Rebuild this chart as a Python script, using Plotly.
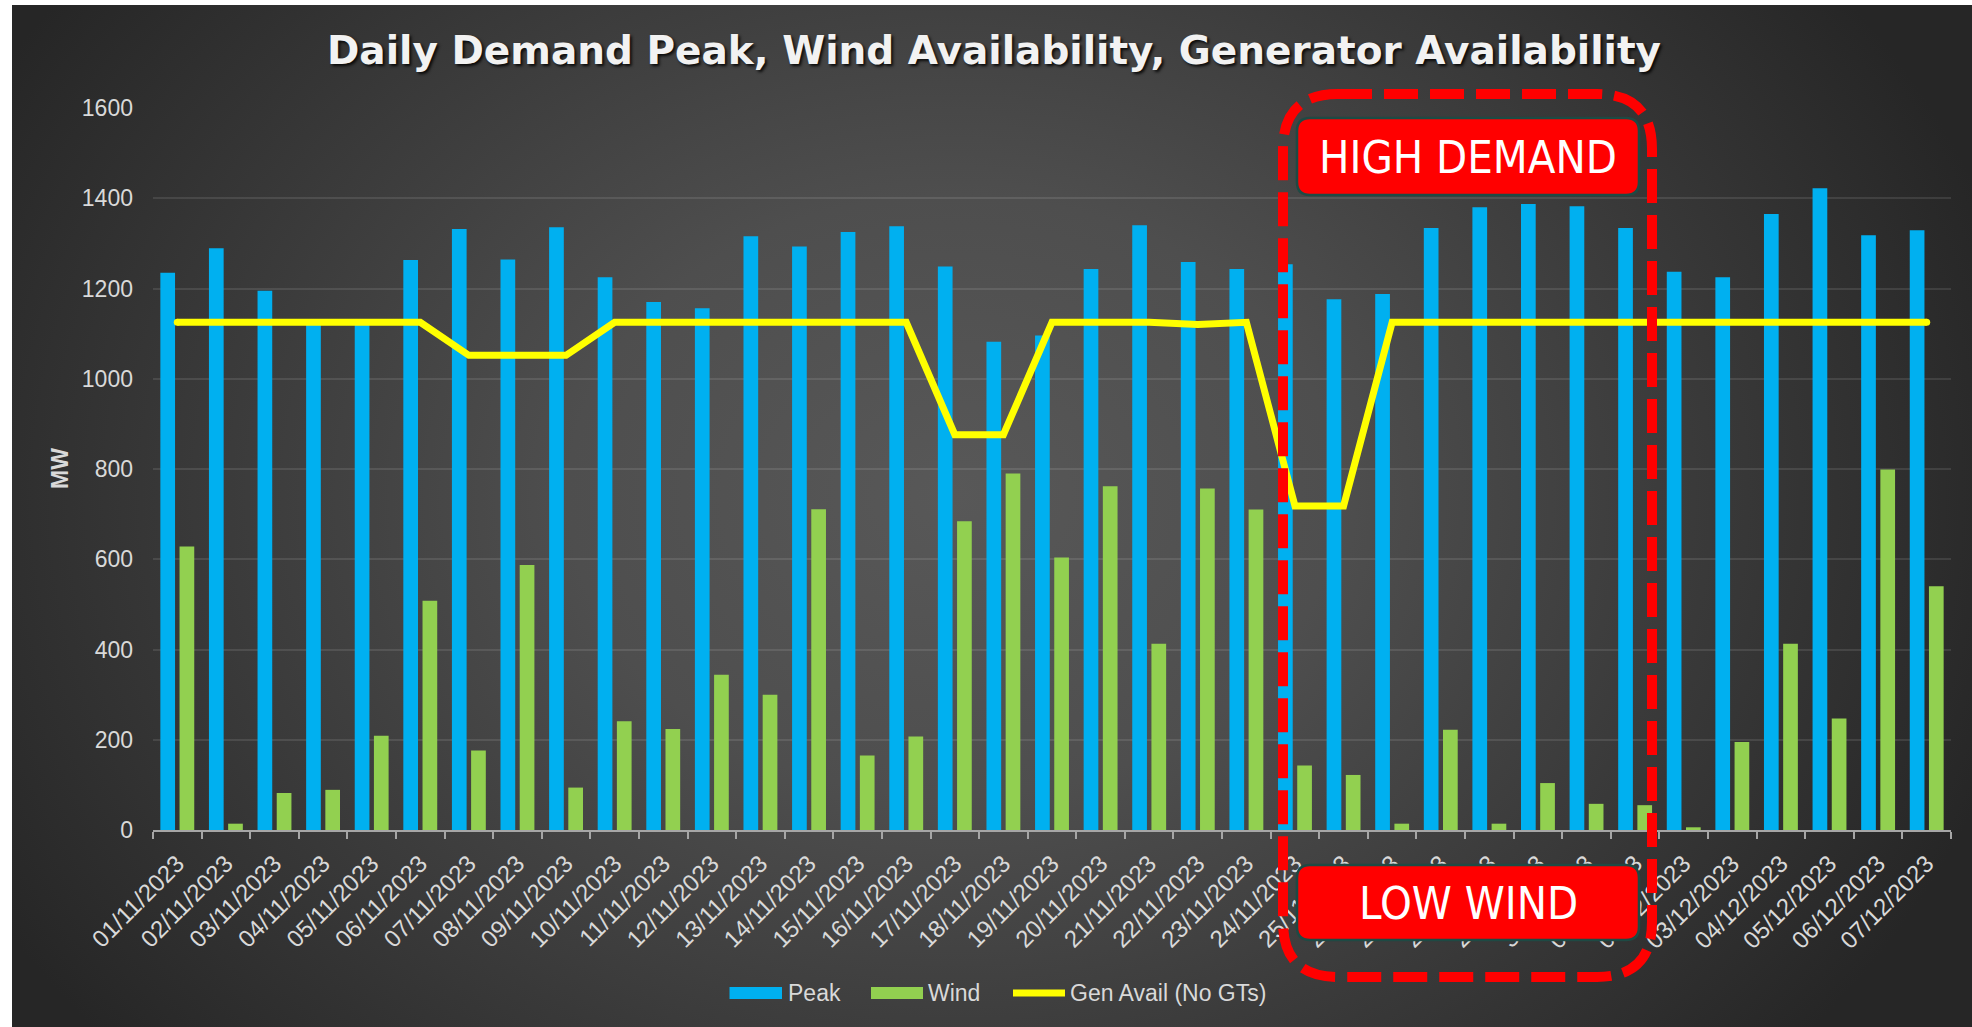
import base64
import plotly.graph_objects as go

# ---------------- data ----------------
dates = [
    "01/11/2023", "02/11/2023", "03/11/2023", "04/11/2023", "05/11/2023", "06/11/2023",
    "07/11/2023", "08/11/2023", "09/11/2023", "10/11/2023", "11/11/2023", "12/11/2023",
    "13/11/2023", "14/11/2023", "15/11/2023", "16/11/2023", "17/11/2023", "18/11/2023",
    "19/11/2023", "20/11/2023", "21/11/2023", "22/11/2023", "23/11/2023", "24/11/2023",
    "25/11/2023", "26/11/2023", "27/11/2023", "28/11/2023", "29/11/2023", "30/11/2023",
    "01/12/2023", "02/12/2023", "03/12/2023", "04/12/2023", "05/12/2023", "06/12/2023",
    "07/12/2023",
]
peak = [1235, 1289, 1195, 1122, 1122, 1263, 1332, 1264, 1336, 1225, 1170, 1156,
        1316, 1293, 1325, 1338, 1249, 1082, 1096, 1243, 1340, 1259, 1243, 1254,
        1176, 1188, 1334, 1380, 1387, 1382, 1334, 1237, 1225, 1365, 1422, 1318, 1329]
wind = [628, 14, 82, 89, 209, 508, 176, 587, 94, 241, 224, 344,
        300, 711, 165, 207, 684, 790, 604, 762, 413, 757, 710, 143,
        122, 14, 222, 14, 104, 58, 55, 6, 195, 413, 247, 799, 540]
gen_avail = [1125, 1125, 1125, 1125, 1125, 1125, 1052, 1052, 1052, 1125, 1125, 1125,
             1125, 1125, 1125, 1125, 876, 876, 1125, 1125, 1125, 1120, 1125, 718,
             718, 1125, 1125, 1125, 1125, 1125, 1125, 1125, 1125, 1125, 1125, 1125, 1125]
y_ticks = [0, 200, 400, 600, 800, 1000, 1200, 1400, 1600]

TITLE = "Daily Demand Peak, Wind Availability, Generator Availability"
SERIES = ["Peak", "Wind", "Gen Avail (No GTs)"]

BLUE, GREEN, YELLOW = "#00B0F0", "#92D050", "#FFFF00"
TXT = "#D9D9D9"
FONT = "Liberation Sans, Arial, sans-serif"
NARROW = "DejaVu Sans Condensed, Liberation Sans, sans-serif"

W, H = 1972, 1027
L, R, T, B = 153, 1951, 108, 830


def px(x):
    return (x - L) / (R - L)


def py(y):
    return (B - y) / (B - T)


def rrect(x0, y0, x1, y1, r):
    p = lambda x, y: f"{px(x):.5f},{py(y):.5f}"
    return (f"M{p(x0 + r, y0)} L{p(x1 - r, y0)} Q{p(x1, y0)} {p(x1, y0 + r)} "
            f"L{p(x1, y1 - r)} Q{p(x1, y1)} {p(x1 - r, y1)} "
            f"L{p(x0 + r, y1)} Q{p(x0, y1)} {p(x0, y1 - r)} "
            f"L{p(x0, y0 + r)} Q{p(x0, y0)} {p(x0 + r, y0)} Z")


fig = go.Figure()
fig.add_trace(go.Bar(x=dates, y=peak, name=SERIES[0], marker_color=BLUE,
                     marker_line_width=0, showlegend=False))
fig.add_trace(go.Bar(x=dates, y=wind, name=SERIES[1], marker_color=GREEN,
                     marker_line_width=0, showlegend=False))
fig.add_trace(go.Scatter(x=dates, y=gen_avail, name=SERIES[2], mode="lines",
                         line=dict(color=YELLOW, width=7), showlegend=False))
# rounded line ends
fig.add_trace(go.Scatter(x=[dates[0], dates[-1]], y=[gen_avail[0], gen_avail[-1]],
                         mode="markers", marker=dict(color=YELLOW, size=7, line_width=0),
                         showlegend=False, hoverinfo="skip"))

# background gradient (dark, lighter centre)
svg = (
    "<svg xmlns='http://www.w3.org/2000/svg' width='1960' height='1022' "
    "viewBox='0 0 1960 1022' preserveAspectRatio='none'><defs>"
    "<radialGradient id='g' cx='0.48' cy='0.48' r='0.56' "
    "gradientTransform='translate(0.48 0.48) scale(1 1.5) translate(-0.48 -0.48)'>"
    "<stop offset='0' stop-color='#585858'/><stop offset='0.35' stop-color='#4e4e4e'/>"
    "<stop offset='1' stop-color='#262626'/></radialGradient></defs>"
    "<rect width='1960' height='1022' fill='url(#g)'/></svg>"
)
src = "data:image/svg+xml;base64," + base64.b64encode(svg.encode()).decode()
fig.add_layout_image(dict(source=src, xref="paper", yref="paper",
                          x=px(12), y=py(5), sizex=px(1972) - px(12), sizey=py(5) - py(1027),
                          xanchor="left", yanchor="top", sizing="stretch", layer="below"))

shapes = []
# dashed highlight
shapes.append(dict(type="path", xref="paper", yref="paper", layer="above",
                   path=rrect(1283, 94, 1652, 977, 55),
                   line=dict(color="#FF0000", width=10, dash="34px,12px"),
                   fillcolor="rgba(0,0,0,0)"))
# label boxes
for (y0, y1) in [(118, 195), (865, 940)]:
    shapes.append(dict(type="path", xref="paper", yref="paper", layer="above",
                       path=rrect(1297, y0, 1639, y1, 13),
                       line=dict(color="#1E4A44", width=2.5), fillcolor="#FF0000"))
# legend swatches
shapes.append(dict(type="rect", xref="paper", yref="paper", x0=px(729.5), x1=px(782),
                   y0=py(999), y1=py(987), line_width=0, fillcolor=BLUE))
shapes.append(dict(type="rect", xref="paper", yref="paper", x0=px(871), x1=px(923),
                   y0=py(999), y1=py(987), line_width=0, fillcolor=GREEN))
shapes.append(dict(type="line", xref="paper", yref="paper", x0=px(1013), x1=px(1065),
                   y0=py(993), y1=py(993), line=dict(color=YELLOW, width=7)))

annotations = [
    dict(text="HIGH DEMAND", x=px(1468), y=py(157)),
    dict(text="LOW WIND", x=px(1468), y=py(903)),
]
annotations = [dict(a, xref="paper", yref="paper", showarrow=False, xanchor="center",
                    yanchor="middle", font=dict(family=NARROW, size=45, color="white"))
               for a in annotations]
for txt, x0 in [(SERIES[0], 786), (SERIES[1], 926), (SERIES[2], 1068)]:
    annotations.append(dict(text=txt, x=px(x0), y=py(993), xref="paper", yref="paper",
                            showarrow=False, xanchor="left", yanchor="middle",
                            font=dict(family=FONT, size=23, color=TXT)))
annotations.append(dict(text="MW", x=px(60), y=py(469), xref="paper", yref="paper",
                        showarrow=False, textangle=-90, xanchor="center", yanchor="middle",
                        font=dict(family=FONT, size=23, color=TXT, weight="bold")))

fig.update_layout(
    width=W, height=H,
    margin=dict(l=L, r=W - R, t=T, b=H - B, pad=0),
    paper_bgcolor="white", plot_bgcolor="rgba(0,0,0,0)",
    barmode="group", bargap=0.21, bargroupgap=0.234,
    title=dict(text=TITLE, x=994 / W, y=1 - 50 / H, xref="container", yref="container",
               xanchor="center", yanchor="middle",
               font=dict(family="DejaVu Sans", size=39, color="#F2F2F2", weight="bold",
                         shadow="2px 2px 3px rgba(0,0,0,0.85)")),
    xaxis=dict(type="category", range=[-0.5, len(dates) - 0.5], autorange=False,
               tickangle=-45, tickfont=dict(family=FONT, size=24, color=TXT),
               showline=True, linecolor="#A6A6A6", linewidth=2,
               ticks="outside", tickson="boundaries", ticklen=7, tickwidth=2,
               tickcolor="#A6A6A6", showgrid=False, zeroline=False, ticklabelstandoff=8),
    yaxis=dict(range=[0, 1600], tickvals=y_ticks, tickfont=dict(family=FONT, size=23, color=TXT),
               showgrid=True, gridcolor="rgba(255,255,255,0.10)", gridwidth=1.5,
               zeroline=False, showline=False, ticks="", ticklabelstandoff=19),
    shapes=shapes, annotations=annotations,
)

fig.write_html("out.html", config={"displayModeBar": False},
               post_script="document.body.style.margin='0';document.body.style.overflow='hidden';")
